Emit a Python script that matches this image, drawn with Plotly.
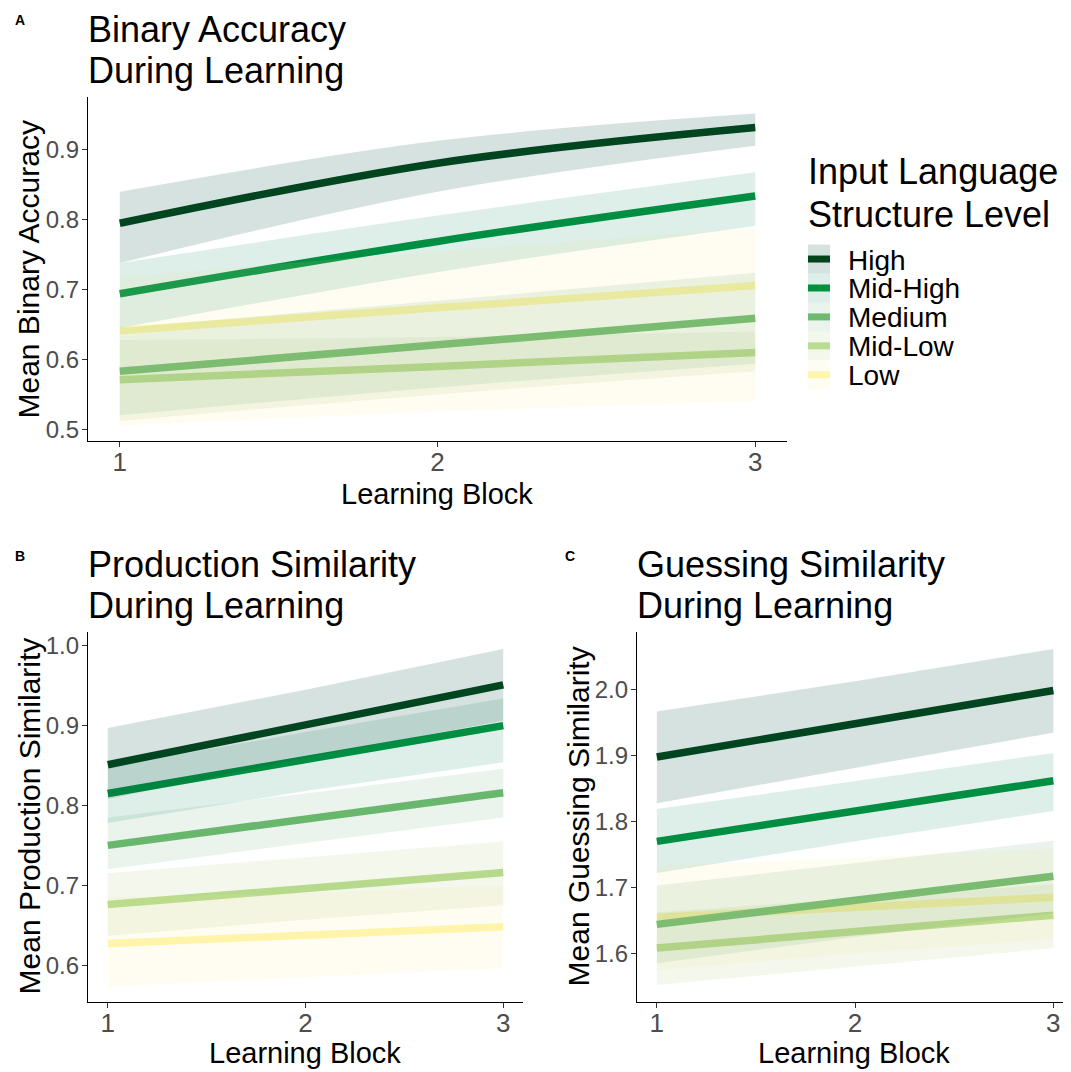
import plotly.graph_objects as go

# page body has an 8px margin: the figure is sized to fill the rest of the window
OFF = 8
W, H = 1071 - OFF, 1072 - OFF
FONT = "Liberation Sans, Arial, sans-serif"

# ---------------- data ----------------
blocks = [1, 2, 3]
levels = ["High", "Mid-High", "Medium", "Mid-Low", "Low"]
line_colors = ["#00441B", "#00913F", "#6DBB6F", "#B8DD90", "#FFF5AD"]
fill_colors = ["rgba(0,75,55,0.16)", "rgba(0,130,90,0.13)", "rgba(80,160,100,0.12)",
               "rgba(170,200,120,0.14)", "rgba(255,240,150,0.13)"]

# Panel A: Binary accuracy
a_fit = {"High": [0.795, 0.881, 0.932], "Mid-High": [0.694, 0.769, 0.834],
         "Medium": [0.583, 0.621, 0.659], "Mid-Low": [0.571, 0.590, 0.610],
         "Low": [0.641, 0.674, 0.706]}
a_lo = {"High": [0.738, 0.840, 0.906], "Mid-High": [0.645, 0.725, 0.791],
        "Medium": [0.520, 0.560, 0.594], "Mid-Low": [0.512, 0.550, 0.583],
        "Low": [0.505, 0.525, 0.540]}
a_hi = {"High": [0.840, 0.913, 0.952], "Mid-High": [0.738, 0.806, 0.868],
        "Medium": [0.645, 0.684, 0.724], "Mid-Low": [0.628, 0.632, 0.640],
        "Low": [0.718, 0.755, 0.788]}

# Panel B: Production similarity
b_fit = {"High": [0.851, 0.901, 0.951], "Mid-High": [0.815, 0.857, 0.900],
         "Medium": [0.750, 0.783, 0.816], "Mid-Low": [0.676, 0.696, 0.716],
         "Low": [0.627, 0.638, 0.648]}
b_lo = {"High": [0.808, 0.860, 0.906], "Mid-High": [0.778, 0.818, 0.854],
        "Medium": [0.720, 0.753, 0.785], "Mid-Low": [0.637, 0.657, 0.675],
        "Low": [0.573, 0.585, 0.596]}
b_hi = {"High": [0.897, 0.945, 0.996], "Mid-High": [0.848, 0.892, 0.934],
        "Medium": [0.785, 0.815, 0.846], "Mid-Low": [0.715, 0.735, 0.755],
        "Low": [0.685, 0.690, 0.700]}

# Panel C: Guessing similarity
c_fit = {"High": [1.898, 1.948, 1.999], "Mid-High": [1.770, 1.816, 1.862],
         "Medium": [1.644, 1.680, 1.717], "Mid-Low": [1.608, 1.633, 1.658],
         "Low": [1.655, 1.670, 1.685]}
c_lo = {"High": [1.828, 1.882, 1.935], "Mid-High": [1.722, 1.770, 1.816],
        "Medium": [1.585, 1.625, 1.661], "Mid-Low": [1.552, 1.580, 1.608],
        "Low": [1.575, 1.600, 1.622]}
c_hi = {"High": [1.967, 2.013, 2.062], "Mid-High": [1.819, 1.862, 1.904],
        "Medium": [1.703, 1.737, 1.771], "Mid-Low": [1.662, 1.683, 1.705],
        "Low": [1.733, 1.745, 1.759]}

a_yticks = [0.5, 0.6, 0.7, 0.8, 0.9]
b_yticks = [0.6, 0.7, 0.8, 0.9, 1.0]
c_yticks = [1.6, 1.7, 1.8, 1.9, 2.0]


def px(x):
    return (x - OFF) / W


def py(y):
    return 1 - (y - OFF) / H


fig = go.Figure()

panels = [("x", "y", a_fit, a_lo, a_hi, "spline"),
          ("x2", "y2", b_fit, b_lo, b_hi, "linear"),
          ("x3", "y3", c_fit, c_lo, c_hi, "linear")]
order = list(range(len(levels)))[::-1]
for xa, ya, fit, lo, hi, shape in panels:
    for i in order:
        fig.add_trace(go.Scatter(x=blocks, y=fit[levels[i]], mode="lines",
                                 line=dict(color=line_colors[i], width=7.5, shape=shape),
                                 xaxis=xa, yaxis=ya, showlegend=False, hoverinfo="skip"))
    for i in order:
        fig.add_trace(go.Scatter(x=blocks, y=lo[levels[i]], mode="lines",
                                 line=dict(width=0, shape=shape), xaxis=xa, yaxis=ya,
                                 showlegend=False, hoverinfo="skip"))
        fig.add_trace(go.Scatter(x=blocks, y=hi[levels[i]], mode="lines",
                                 line=dict(width=0, shape=shape), fill="tonexty",
                                 fillcolor=fill_colors[i], xaxis=xa, yaxis=ya,
                                 showlegend=False, hoverinfo="skip"))

xcommon = dict(tickvals=blocks, ticks="outside", ticklen=5, tickwidth=1, tickcolor="#333333",
               showline=True, linecolor="black", linewidth=1.2, showgrid=False, zeroline=False,
               ticklabelstandoff=-7,
               tickfont=dict(family=FONT, size=26, color="#4D4D4D"))
ycommon = dict(ticks="outside", ticklen=5, tickwidth=1, tickcolor="#333333", tickformat=".1f",
               showline=True, linecolor="black", linewidth=1.2, showgrid=False, zeroline=False,
               ticklabelstandoff=-2,
               tickfont=dict(family=FONT, size=24, color="#4D4D4D"))

fig.update_layout(
    width=W, height=H, margin=dict(l=0, r=0, t=0, b=0),
    paper_bgcolor="white", plot_bgcolor="white", showlegend=False,
    font=dict(family=FONT),
    xaxis=dict(domain=[px(88), px(787)], range=[0.9, 3.1], anchor="y", **xcommon),
    yaxis=dict(domain=[py(442), py(97)], range=[0.483, 0.976], tickvals=a_yticks,
               anchor="x", **ycommon),
    xaxis2=dict(domain=[px(88), px(523)], range=[0.9, 3.1], anchor="y2", **xcommon),
    yaxis2=dict(domain=[py(1004), py(633)], range=[0.5537, 1.0175], tickvals=b_yticks,
                anchor="x2", **ycommon),
    xaxis3=dict(domain=[px(637), 1.0], range=[0.9, 3.089], anchor="y3", **xcommon),
    yaxis3=dict(domain=[py(1004), py(633)], range=[1.526, 2.088], tickvals=c_yticks,
                anchor="x3", **ycommon),
)

ann = []


def text(t, x, y, size, color="black", xanchor="left", angle=0, bold=False):
    ann.append(dict(text=("<b>%s</b>" % t) if bold else t, x=px(x), y=py(y),
                    xref="paper", yref="paper", xanchor=xanchor, yanchor="middle",
                    showarrow=False, textangle=angle,
                    font=dict(family=FONT, size=size, color=color)))


# tags
text("A", 13, 20, 14, bold=True)
text("B", 13, 557, 14, bold=True)
text("C", 563, 557, 14, bold=True)
# titles
text("Binary Accuracy", 86, 30, 36)
text("During Learning", 86, 71, 36)
text("Production Similarity", 86, 566, 36)
text("During Learning", 86, 607, 36)
text("Guessing Similarity", 635, 566, 36)
text("During Learning", 635, 607, 36)
# axis titles
text("Mean Binary Accuracy", 29, 270, 30, xanchor="center", angle=-90)
text("Learning Block", 437, 495, 29, xanchor="center")
text("Mean Production Similarity", 29, 818, 30, xanchor="center", angle=-90)
text("Learning Block", 305, 1055, 29, xanchor="center")
text("Mean Guessing Similarity", 578, 818, 30, xanchor="center", angle=-90)
text("Learning Block", 854, 1055, 29, xanchor="center")

# legend (manual key)
text("Input Language", 806, 172, 36)
text("Structure Level", 806, 215, 36)
shapes = []
key_top = 245
key_h = 29
for i, lev in enumerate(levels):
    y0 = key_top + i * key_h
    yc = y0 + key_h / 2
    shapes.append(dict(type="rect", xref="paper", yref="paper", x0=px(808), x1=px(830),
                       y0=py(y0 + key_h), y1=py(y0), fillcolor=fill_colors[i],
                       line=dict(width=0), layer="above"))
    shapes.append(dict(type="line", xref="paper", yref="paper", x0=px(808), x1=px(830),
                       y0=py(yc), y1=py(yc), line=dict(color=line_colors[i], width=7),
                       layer="above"))
    text(lev, 846, yc + 1, 28)

fig.update_layout(annotations=ann, shapes=shapes)
fig.write_html("out.html")
